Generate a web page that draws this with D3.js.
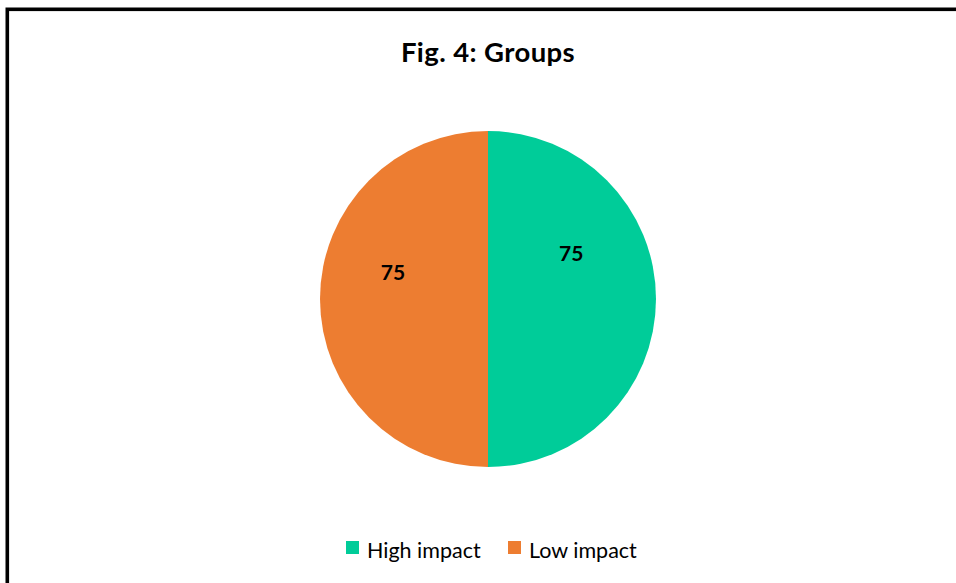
<!DOCTYPE html>
<html><head><meta charset="utf-8">
<script src="https://cdn.jsdelivr.net/npm/d3@7"></script>
<style>body{margin:0;background:#fff}svg{display:block}</style>
</head><body>
<svg id="c" width="956" height="583"></svg>
<script>
const categories = ["High impact", "Low impact"];
const values = [75, 75];
const colors = ["#00CC99", "#ED7D31"];
const title = "Fig. 4: Groups";

const svg = d3.select("#c");
const font = "Lato, 'Open Sans', sans-serif";
svg.append("rect").attr("width",956).attr("height",583).attr("fill","#fff");
svg.append("rect").attr("x",7.3).attr("y",9.3).attr("width",1000).attr("height",700)
  .attr("fill","none").attr("stroke","#000").attr("stroke-width",3.6);

svg.append("text").attr("x",488).attr("y",62).attr("text-anchor","middle")
  .attr("font-family",font).attr("font-weight","bold").attr("font-size",27.5)
  .attr("letter-spacing",0.4).text(title);

const cx=488, cy=299, r=168;
const pie = d3.pie().sort(null).value(d=>d)(values);
const arc = d3.arc().innerRadius(0).outerRadius(r);
const g = svg.append("g").attr("transform",`translate(${cx},${cy})`);
g.selectAll("path").data(pie).join("path").attr("d",arc).attr("fill",(d,i)=>colors[i]);
// label positions (Excel "best fit" placement inside slices)
const labelFrac = [0.34, 0.588];
const labelRad = [0.565, 0.588];
g.selectAll("text").data(pie).join("text")
  .attr("transform",(d,i)=>{
    const a = d.startAngle + (d.endAngle-d.startAngle)*labelFrac[i];
    const rr = r*labelRad[i];
    return `translate(${Math.sin(a)*rr},${-Math.cos(a)*rr})`;
  })
  .attr("text-anchor","middle").attr("dy","0.36em")
  .attr("font-family",font).attr("font-weight","bold").attr("font-size",21)
  .text(d=>d.data);

const lg = svg.append("g");
const lx = [346, 508];
categories.forEach((c,i)=>{
  lg.append("rect").attr("x",lx[i]).attr("y",541).attr("width",13).attr("height",13).attr("fill",colors[i]);
  lg.append("text").attr("x",lx[i]+21).attr("y",558).attr("font-family",font).attr("font-size",21.5).attr("fill","#000").text(c);
});
</script>
</body></html>
